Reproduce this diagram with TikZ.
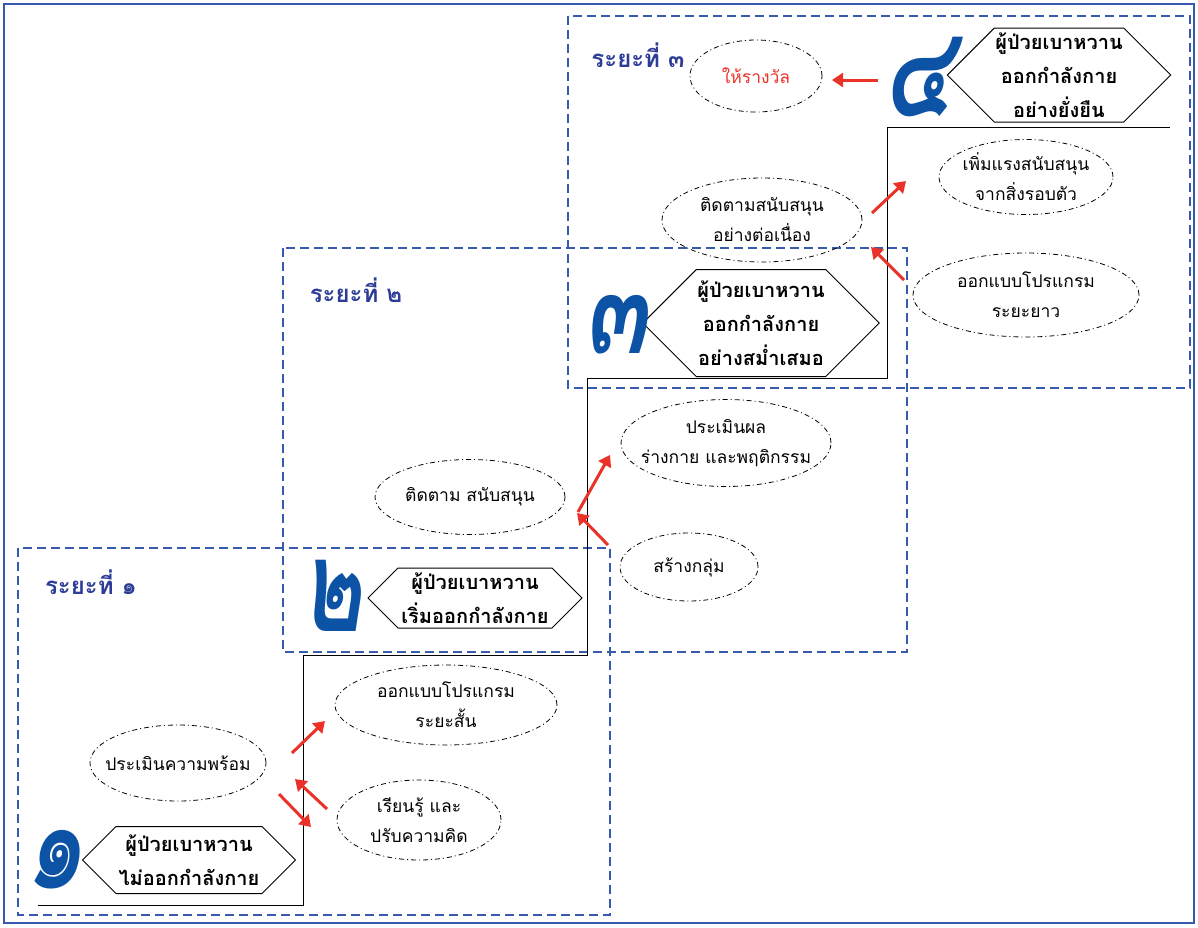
\documentclass[tikz,border=0pt]{standalone}
\usepackage{fontspec}
\newfontfamily\thai[Script=Thai]{Loma}
\usetikzlibrary{shapes.geometric,shapes.symbols,arrows.meta}
\definecolor{frameblue}{RGB}{55,90,175}
\definecolor{stageblue}{RGB}{45,60,150}
\definecolor{numblue}{RGB}{12,82,165}
\definecolor{arrowred}{RGB}{235,50,40}
\tikzstyle{stagebox}=[draw=frameblue, line width=1.8pt, dash pattern=on 9pt off 5pt]
\tikzstyle{goal}=[signal, signal to=west and east, signal pointer angle=90, draw, fill=white, line width=1pt, align=center, inner sep=1pt, font=\thai\bfseries\fontsize{20}{34}\selectfont]
\tikzstyle{act}=[ellipse, draw, line width=0.8pt, dash pattern=on 5pt off 3pt on 1pt off 3pt, align=center, inner xsep=-20pt, inner ysep=-10pt, font=\thai\fontsize{17.5}{30}\selectfont]
\tikzstyle{redarr}=[arrowred, line width=3pt, -{Triangle[length=11pt,width=14pt]}]
\tikzstyle{stagename}=[stageblue, font=\thai\bfseries\fontsize{24}{24}\selectfont]
\tikzstyle{bignum}=[numblue, inner sep=0pt, font=\thai\bfseries\itshape\fontsize{92}{92}\selectfont]
\tikzset{esize/.style 2 args={minimum width=#1pt, minimum height=#2pt}}
\newcommand{\tallnum}[1]{\scalebox{1}[1.4]{#1}}

\begin{document}
\begin{tikzpicture}[x=1pt,y=-1pt]
\useasboundingbox (0,0) rectangle (1198,927);
\draw[frameblue, line width=2pt] (4,4) rectangle (1194,923);
\draw[stagebox] (18,548) rectangle (610,915);
\draw[stagebox] (283,248) rectangle (907,652);
\draw[stagebox] (568,16) rectangle (1190,388);
\draw[line width=1pt] (38,905) -- (303,905) -- (303,655) -- (587,655) -- (587,378) -- (887,378) -- (887,127) -- (1170,127);
\node[stagename] (s1) at (91,582) {ระยะที่ ๑};
\node[stagename] (s2) at (356,290) {ระยะที่ ๒};
\node[stagename] (s3) at (638,55) {ระยะที่ ๓};
\node[goal, minimum width=213pt, minimum height=67pt] (g1) at (189,860) {ผู้ป่วยเบาหวาน\\ไม่ออกกำลังกาย};
\node[goal, minimum width=214pt, minimum height=60pt] (g2) at (475,598) {ผู้ป่วยเบาหวาน\\เริ่มออกกำลังกาย};
\node[goal, minimum width=222pt, minimum height=107pt] (g3) at (761,323) {ผู้ป่วยเบาหวาน\\ออกกำลังกาย\\อย่างสม่ำเสมอ};
\node[goal, minimum width=222pt, minimum height=94pt] (g4) at (1059,75) {ผู้ป่วยเบาหวาน\\ออกกำลังกาย\\อย่างยั่งยืน};
\node[bignum] (n1) at (55,860) {\tallnum{๑}};
\node[bignum] (n2) at (332,596) {\tallnum{๒}};
\node[bignum] (n3) at (616,325) {\tallnum{๓}};
\node[bignum] (n4) at (918,77) {\tallnum{๔}};
\node[act, esize={176}{76}] (ready) at (178,763) {ประเมินความพร้อม};
\node[act, esize={222}{80}] (short) at (446,705) {ออกแบบโปรแกรม\\ระยะสั้น};
\node[act, esize={164}{80}] (learn) at (419,820) {เรียนรู้ และ\\ปรับความคิด};
\node[act, esize={190}{75}] (follow) at (470,497) {ติดตาม สนับสนุน};
\node[act, esize={210}{87}] (assess) at (726,443) {ประเมินผล\\ร่างกาย และพฤติกรรม};
\node[act, esize={138}{68}] (group) at (689,567) {สร้างกลุ่ม};
\node[act, esize={200}{84}] (keep) at (762,220) {ติดตามสนับสนุน\\อย่างต่อเนื่อง};
\node[act, esize={174}{75}] (env) at (1026,177) {เพิ่มแรงสนับสนุน\\จากสิ่งรอบตัว};
\node[act, esize={226}{84}] (long) at (1026,295) {ออกแบบโปรแกรม\\ระยะยาว};
\node[act, esize={132}{72}, text=arrowred] (reward) at (756,76) {ให้รางวัล};
\coordinate (a1s) at (292,753);
\coordinate (a1e) at (325,721);
\coordinate (a2s) at (327,809);
\coordinate (a2e) at (295,779);
\coordinate (a3s) at (279,794);
\coordinate (a3e) at (311,827);
\coordinate (a4s) at (578,512);
\coordinate (a4e) at (610,455);
\coordinate (a5s) at (608,545);
\coordinate (a5e) at (577,513);
\coordinate (a6s) at (872,213);
\coordinate (a6e) at (906,181);
\coordinate (a7s) at (904,280);
\coordinate (a7e) at (871,247);
\coordinate (a8s) at (878,80);
\coordinate (a8e) at (832,80);
\draw[redarr] (a1s) -- (a1e);
\draw[redarr] (a2s) -- (a2e);
\draw[redarr] (a3s) -- (a3e);
\draw[redarr] (a4s) -- (a4e);
\draw[redarr] (a5s) -- (a5e);
\draw[redarr] (a6s) -- (a6e);
\draw[redarr] (a7s) -- (a7e);
\draw[redarr] (a8s) -- (a8e);
\end{tikzpicture}
\end{document}
